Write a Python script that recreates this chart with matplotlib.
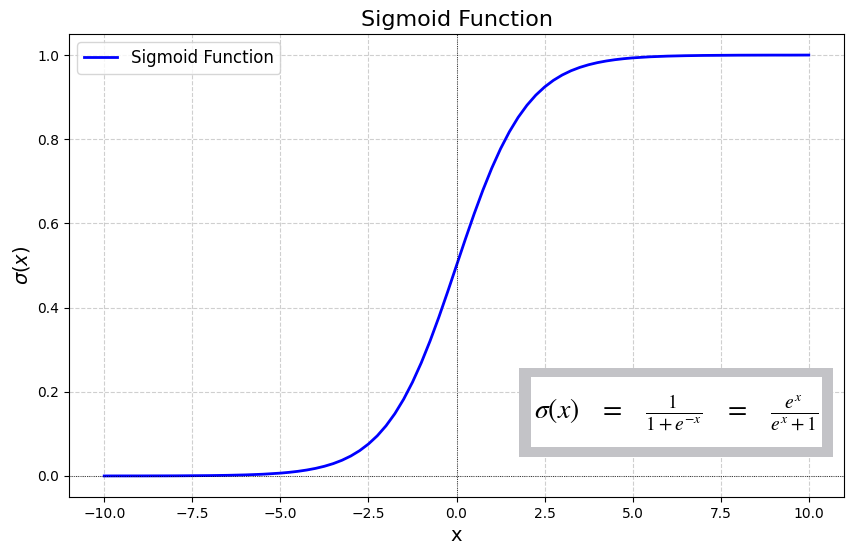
import matplotlib
matplotlib.use('Agg')
import matplotlib.pyplot as plt
from matplotlib.patches import Rectangle

# points
x_vals = [-10, -9.5, -9, -8.5, -8, -7.5, -7, -6.5, -6, -5.5,
          -5, -4.75, -4.5, -4.25, -4, -3.75, -3.5, -3.25, -3, -2.75,
          -2.5, -2.25, -2, -1.75, -1.5, -1.25, -1, -0.75, -0.5, -0.25,
          0, 0.25, 0.5, 0.75, 1, 1.25, 1.5, 1.75, 2, 2.25,
          2.5, 2.75, 3, 3.25, 3.5, 3.75, 4, 4.25, 4.5, 4.75, 5,
          5.5, 6, 6.5, 7, 7.5, 8, 8.5, 9, 9.5, 10]
y_vals = [0.0000, 0.0001, 0.0001, 0.0002, 0.0003, 0.0006, 0.0009, 0.0015, 0.0025, 0.0041,
          0.0067, 0.0086, 0.0110, 0.0141, 0.0180, 0.0230, 0.0293, 0.0373, 0.0474, 0.0601,
          0.0759, 0.0953, 0.1192, 0.1480, 0.1824, 0.2227, 0.2689, 0.3208, 0.3775, 0.4378,
          0.5000, 0.5622, 0.6225, 0.6792, 0.7311, 0.7773, 0.8176, 0.8520, 0.8808, 0.9047,
          0.9241, 0.9399, 0.9526, 0.9627, 0.9707, 0.9770, 0.9820, 0.9859, 0.9890, 0.9914, 0.9933,
          0.9959, 0.9975, 0.9985, 0.9991, 0.9994, 0.9997, 0.9998, 0.9999, 0.9999, 1.0000]

fig = plt.figure(figsize=(8.56, 5.54), dpi=100)
ax = fig.add_axes([0.0806, 0.1029, 0.9054, 0.8357])

ax.plot(x_vals, y_vals, color='blue', linewidth=2, label='Sigmoid Function')
ax.axhline(0, color='black', linewidth=0.6, linestyle=':')
ax.axvline(0, color='black', linewidth=0.6, linestyle=':')

ax.set_title('Sigmoid Function', fontsize=16)
ax.set_xlabel('x', fontsize=14)
ax.set_ylabel(r'$\sigma(x)$', fontsize=14)
ax.grid(True, linestyle='--', alpha=0.6)
ax.legend(loc='upper left', fontsize=12)

# formula box
fig.patches.append(Rectangle((0.6063, 0.1751), 0.3668, 0.1606,
                             transform=fig.transFigure, facecolor='#c3c3c7', edgecolor='none'))
fig.patches.append(Rectangle((0.6203, 0.1931), 0.3400, 0.1264,
                             transform=fig.transFigure, facecolor='white', edgecolor='none'))
fig.text(0.790, 0.2563,
         r'$\sigma(x)\quad=\quad\frac{1}{1+e^{-x}}\quad=\quad\frac{e^{x}}{e^{x}+1}$',
         fontsize=20, ha='center', va='center', math_fontfamily='stix')

fig.savefig('out.png', dpi=100)
